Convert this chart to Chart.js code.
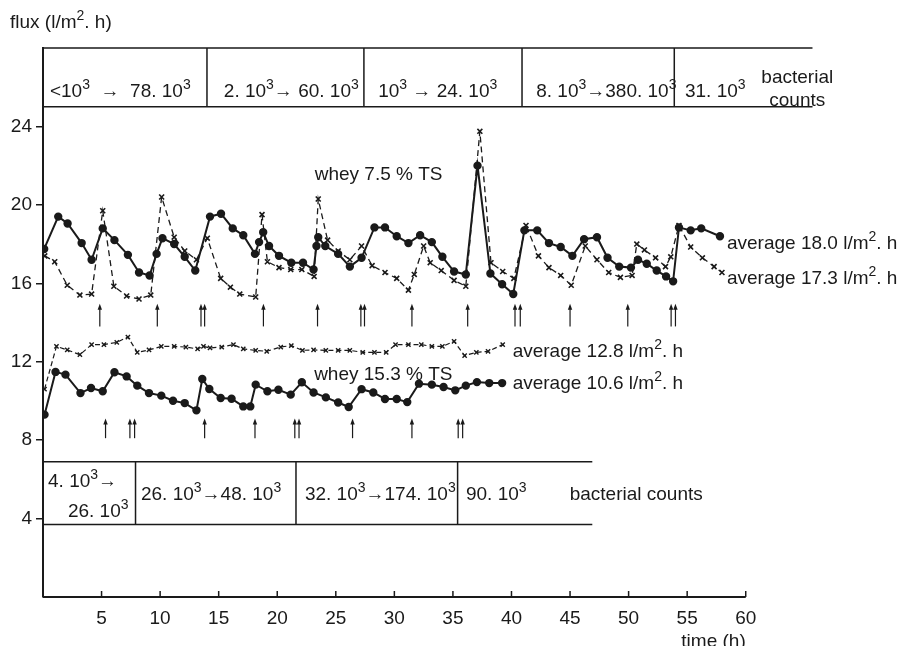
<!DOCTYPE html>
<html>
<head>
<meta charset="utf-8">
<script src="https://cdn.jsdelivr.net/npm/chart.js@4.4.1/dist/chart.umd.min.js"></script>
<style>
  html, body { margin: 0; padding: 0; background: #fff; }
  #wrap { width: 907px; height: 646px; }
</style>
</head>
<body>
<div id="wrap"><canvas id="flux"></canvas></div>
<script>
// whey 7.5 % TS - solid line with dots (average 18.0)
var t75a = [0.1, 1.3, 2.1, 3.3, 4.15, 5.1, 6.1, 7.25, 8.2, 9.1, 9.7, 10.2, 11.2, 12.1, 13.0, 14.26, 15.2, 16.2, 17.1, 18.1, 18.45, 18.8, 19.3, 20.15, 21.2, 22.2, 23.1, 23.35, 23.5, 24.1, 25.2, 26.2, 27.2, 28.3, 29.2, 30.2, 31.2, 32.2, 33.2, 34.1, 35.1, 36.1, 37.1, 38.2, 39.2, 40.15, 41.1, 42.2, 43.2, 44.2, 45.2, 46.2, 47.3, 48.2, 49.2, 50.2, 50.8, 51.55, 52.4, 53.2, 53.8, 54.3, 55.3, 56.2, 57.8];
var f75a = [17.75, 19.4, 19.05, 18.05, 17.2, 18.8, 18.2, 17.45, 16.55, 16.4, 17.5, 18.3, 18.0, 17.35, 16.65, 19.4, 19.55, 18.8, 18.45, 17.5, 18.1, 18.6, 17.9, 17.4, 17.05, 17.05, 16.7, 17.9, 18.35, 17.9, 17.5, 16.85, 17.3, 18.85, 18.85, 18.4, 18.05, 18.45, 18.1, 17.35, 16.6, 16.45, 22.0, 16.5, 15.95, 15.45, 18.7, 18.7, 18.05, 17.85, 17.4, 18.25, 18.35, 17.3, 16.85, 16.8, 17.2, 17.0, 16.65, 16.35, 16.1, 18.85, 18.7, 18.8, 18.4];

// whey 7.5 % TS - dashed line with crosses (average 17.3)
var t75b = [0.15, 1.0, 2.07, 3.15, 4.15, 5.1, 6.05, 7.14, 8.2, 9.2, 10.13, 11.2, 12.1, 13.1, 14.03, 15.17, 16.0, 16.8, 18.16, 18.7, 19.16, 20.15, 21.15, 22.1, 23.15, 23.5, 24.3, 25.2, 26.2, 27.2, 28.1, 29.2, 30.2, 31.2, 31.7, 32.5, 33.06, 34.0, 35.1, 36.1, 37.3, 38.25, 39.25, 40.2, 41.24, 42.3, 43.2, 44.2, 45.1, 46.3, 47.3, 48.3, 49.3, 50.3, 50.7, 51.35, 52.3, 53.15, 53.6, 54.3, 55.3, 56.3, 57.3, 57.97];
var f75b = [17.4, 17.1, 15.9, 15.4, 15.45, 19.7, 15.85, 15.35, 15.2, 15.4, 20.4, 18.35, 17.65, 17.2, 18.3, 16.25, 15.8, 15.45, 15.3, 19.5, 17.1, 16.8, 16.7, 16.7, 16.35, 20.3, 18.2, 17.65, 17.2, 17.9, 16.9, 16.55, 16.25, 15.65, 16.45, 17.9, 17.05, 16.65, 16.15, 15.85, 23.75, 17.05, 16.6, 16.25, 18.95, 17.4, 16.8, 16.4, 15.9, 17.9, 17.2, 16.55, 16.3, 16.4, 18.0, 17.7, 17.3, 16.85, 17.35, 18.95, 17.85, 17.3, 16.85, 16.55];

// whey 15.3 % TS - dashed line with crosses (average 12.8)
var t153b = [0.13, 1.15, 2.07, 3.15, 4.15, 5.2, 6.3, 7.25, 8.05, 9.05, 10.1, 11.2, 12.2, 13.2, 13.7, 14.26, 15.26, 16.26, 17.1, 18.16, 19.1, 20.3, 21.2, 22.15, 23.1, 24.15, 25.2, 26.2, 27.3, 28.3, 29.3, 30.1, 31.2, 32.3, 33.2, 34.1, 35.1, 36.0, 37.0, 38.0, 39.25];
var f153b = [10.6, 12.78, 12.6, 12.36, 12.87, 12.87, 12.99, 13.26, 12.48, 12.6, 12.78, 12.78, 12.75, 12.65, 12.78, 12.7, 12.75, 12.87, 12.65, 12.58, 12.53, 12.75, 12.82, 12.58, 12.6, 12.58, 12.58, 12.58, 12.48, 12.48, 12.48, 12.87, 12.87, 12.87, 12.78, 12.78, 13.04, 12.31, 12.48, 12.53, 12.87];

// whey 15.3 % TS - solid line with dots (average 10.6)
var t153a = [0.13, 1.07, 1.92, 3.2, 4.1, 5.1, 6.1, 7.14, 8.05, 9.05, 10.1, 11.1, 12.1, 13.1, 13.6, 14.2, 15.17, 16.1, 17.1, 17.7, 18.16, 19.16, 20.1, 21.15, 22.1, 23.1, 24.15, 25.2, 26.1, 27.2, 28.2, 29.2, 30.2, 31.1, 32.1, 33.2, 34.2, 35.2, 36.1, 37.05, 38.1, 39.2];
var f153a = [9.3, 11.48, 11.34, 10.4, 10.66, 10.49, 11.46, 11.25, 10.78, 10.4, 10.27, 10.01, 9.89, 9.52, 11.12, 10.61, 10.15, 10.11, 9.72, 9.72, 10.83, 10.49, 10.57, 10.32, 10.95, 10.43, 10.18, 9.92, 9.69, 10.6, 10.43, 10.1, 10.1, 9.94, 10.88, 10.83, 10.71, 10.54, 10.78, 10.96, 10.91, 10.91];

// arrows (times, h)
var arrows75 = [4.85, 9.76, 13.49, 13.8, 18.82, 23.44, 27.14, 27.45, 31.5, 36.26, 40.3, 40.75, 45.0, 49.93, 53.63, 54.0];
var arrows153 = [5.34, 7.42, 7.82, 13.8, 18.1, 21.5, 21.86, 26.43, 31.5, 35.45, 35.83];

// bacterial count periods (borders in h) and labels
var counts75Bounds = [14.0, 27.4, 40.9, 53.9];
var counts75Labels = ['<10^3  →  78. 10^3', '2. 10^3→ 60. 10^3', '10^3 → 24. 10^3', '8. 10^3→380. 10^3', '31. 10^3'];
var counts153Bounds = [7.9, 21.6, 35.4];
var counts153Labels = ['26. 10^3→48. 10^3', '32. 10^3→174. 10^3', '90. 10^3'];

var xTicks = [5, 10, 15, 20, 25, 30, 35, 40, 45, 50, 55, 60];
var yTicks = [4, 8, 12, 16, 20, 24];

var FONT = '"Liberation Sans", Arial, sans-serif';
var INK = '#1a1a1a';
var FS = 19;

function pairs(t, f) {
  return t.map(function (v, i) { return { x: v, y: f[i] }; });
}

// text with "^x" superscripts, y = middle of the normal text
function richText(ctx, str, x, y, align, size) {
  var segs = [];
  str.split('^').forEach(function (p, i) {
    if (i === 0) { if (p) segs.push([p, false]); return; }
    segs.push([p.charAt(0), true]);
    if (p.length > 1) segs.push([p.slice(1), false]);
  });
  var sup = Math.round(size * 0.72);
  var w = 0;
  segs.forEach(function (s) {
    ctx.font = (s[1] ? sup : size) + 'px ' + FONT;
    s.push(ctx.measureText(s[0]).width);
    w += s[2];
  });
  var cx = align === 'center' ? x - w / 2 : (align === 'right' ? x - w : x);
  var base = y + size * 0.36;
  ctx.textAlign = 'left';
  ctx.textBaseline = 'alphabetic';
  segs.forEach(function (s) {
    ctx.font = (s[1] ? sup : size) + 'px ' + FONT;
    ctx.fillText(s[0], cx, s[1] ? base - size * 0.42 : base);
    cx += s[2];
  });
}

function arrow(ctx, px, yTail, yTip) {
  ctx.beginPath();
  ctx.moveTo(px, yTail);
  ctx.lineTo(px, yTip + 4);
  ctx.stroke();
  ctx.beginPath();
  ctx.moveTo(px, yTip);
  ctx.lineTo(px - 2.2, yTip + 6);
  ctx.lineTo(px + 2.2, yTip + 6);
  ctx.closePath();
  ctx.fill();
}

var extras = {
  id: 'extras',
  afterDraw: function (chart) {
    var ctx = chart.ctx;
    var xs = chart.scales.x, ys = chart.scales.y;
    var X = function (v) { return xs.getPixelForValue(v); };
    var Y = function (v) { return ys.getPixelForValue(v); };
    ctx.save();
    ctx.strokeStyle = INK;
    ctx.fillStyle = INK;

    // x axis line and inward ticks
    ctx.lineWidth = 2;
    ctx.beginPath();
    ctx.moveTo(X(0), Y(0));
    ctx.lineTo(X(60), Y(0));
    ctx.stroke();
    ctx.lineWidth = 1.5;
    xTicks.forEach(function (v) {
      ctx.beginPath();
      ctx.moveTo(X(v), Y(0));
      ctx.lineTo(X(v), Y(0) - 6);
      ctx.stroke();
    });

    // bacterial count boxes, 7.5 % TS
    ctx.lineWidth = 1.5;
    ctx.beginPath();
    ctx.moveTo(X(0), Y(28)); ctx.lineTo(X(65.7), Y(28));
    ctx.moveTo(X(0), Y(25)); ctx.lineTo(X(65.7), Y(25));
    counts75Bounds.forEach(function (b) {
      ctx.moveTo(X(b), Y(28)); ctx.lineTo(X(b), Y(25));
    });
    ctx.stroke();
    var c75x = [6.6, 21.2, 33.7, 48.1, 57.4];
    counts75Labels.forEach(function (s, i) {
      richText(ctx, s, X(c75x[i]), Y(25.87), 'center', FS);
    });
    richText(ctx, 'bacterial', X(64.4), Y(26.55), 'center', FS);
    richText(ctx, 'counts', X(64.4), Y(25.4), 'center', FS);

    // bacterial count boxes, 15.3 % TS
    ctx.beginPath();
    ctx.moveTo(X(0), Y(6.9)); ctx.lineTo(X(46.9), Y(6.9));
    ctx.moveTo(X(0), Y(3.7)); ctx.lineTo(X(46.9), Y(3.7));
    counts153Bounds.forEach(function (b) {
      ctx.moveTo(X(b), Y(6.9)); ctx.lineTo(X(b), Y(3.7));
    });
    ctx.stroke();
    richText(ctx, '4. 10^3→', X(0.43), Y(5.97), 'left', FS);
    richText(ctx, '26. 10^3', X(7.3), Y(4.44), 'right', FS);
    var c153x = [14.35, 28.8, 38.7];
    counts153Labels.forEach(function (s, i) {
      richText(ctx, s, X(c153x[i]), Y(5.3), 'center', FS);
    });
    richText(ctx, 'bacterial counts', X(50.65), Y(5.3), 'center', FS);

    // arrows
    ctx.lineWidth = 1.2;
    arrows75.forEach(function (t) { arrow(ctx, X(t), Y(13.8), Y(14.95)); });
    arrows153.forEach(function (t) { arrow(ctx, X(t), Y(8.1), Y(9.1)); });

    // series labels
    richText(ctx, 'whey 7.5 % TS', X(23.2), Y(21.6), 'left', FS);
    richText(ctx, 'whey 15.3 % TS', X(23.15), Y(11.43), 'left', FS);
    richText(ctx, 'average 18.0 l/m^2. h', X(58.4), Y(18.1), 'left', FS);
    richText(ctx, 'average 17.3 l/m^2. h', X(58.4), Y(16.33), 'left', FS);
    richText(ctx, 'average 12.8 l/m^2. h', X(40.1), Y(12.6), 'left', FS);
    richText(ctx, 'average 10.6 l/m^2. h', X(40.1), Y(10.97), 'left', FS);

    // axis titles
    richText(ctx, 'flux (l/m^2. h)', 10, 21, 'left', FS);
    richText(ctx, 'time (h)', X(60), 640, 'right', FS);
    ctx.restore();
  }
};

var ctx = document.getElementById('flux').getContext('2d');
var fluxChart = new Chart(ctx, {
  type: 'line',
  data: {
    datasets: [{
      data: pairs(t75a, f75a),
      borderColor: INK, borderWidth: 2,
      pointStyle: 'circle', pointRadius: 3.2,
      pointBackgroundColor: INK, pointBorderColor: INK
    }, {
      data: pairs(t75b, f75b),
      borderColor: INK, borderWidth: 1.3, borderDash: [6, 4],
      pointStyle: 'crossRot', pointRadius: 3.5, pointBorderWidth: 1.6,
      pointBorderColor: INK
    }, {
      data: pairs(t153b, f153b),
      borderColor: INK, borderWidth: 1.2, borderDash: [5, 3],
      pointStyle: 'crossRot', pointRadius: 3, pointBorderWidth: 1.4,
      pointBorderColor: INK
    }, {
      data: pairs(t153a, f153a),
      borderColor: INK, borderWidth: 2,
      pointStyle: 'circle', pointRadius: 3.2,
      pointBackgroundColor: INK, pointBorderColor: INK
    }]
  },
  options: {
    responsive: true,
    maintainAspectRatio: false,
    animation: false,
    devicePixelRatio: 1,
    layout: { padding: { left: 0, right: 91, top: 48, bottom: 0 } },
    plugins: { legend: { display: false }, tooltip: { enabled: false } },
    elements: { line: { tension: 0 } },
    scales: {
      x: {
        type: 'linear', min: 0, max: 66,
        afterFit: function (s) { s.height = 49; },
        afterBuildTicks: function (s) { s.ticks = xTicks.map(function (v) { return { value: v }; }); },
        grid: { display: false, drawTicks: false },
        border: { display: false },
        ticks: { color: INK, padding: 10, maxRotation: 0, autoSkip: false, font: { family: FONT, size: FS } }
      },
      y: {
        min: 0, max: 28,
        afterFit: function (s) { s.width = 43; },
        afterBuildTicks: function (s) { s.ticks = yTicks.map(function (v) { return { value: v }; }); },
        grid: { drawOnChartArea: false, drawTicks: true, tickLength: 7, color: INK, lineWidth: 1.5 },
        border: { display: true, color: INK, width: 2 },
        ticks: { color: INK, padding: 4, font: { family: FONT, size: FS } }
      }
    }
  },
  plugins: [extras]
});
</script>
</body>
</html>
